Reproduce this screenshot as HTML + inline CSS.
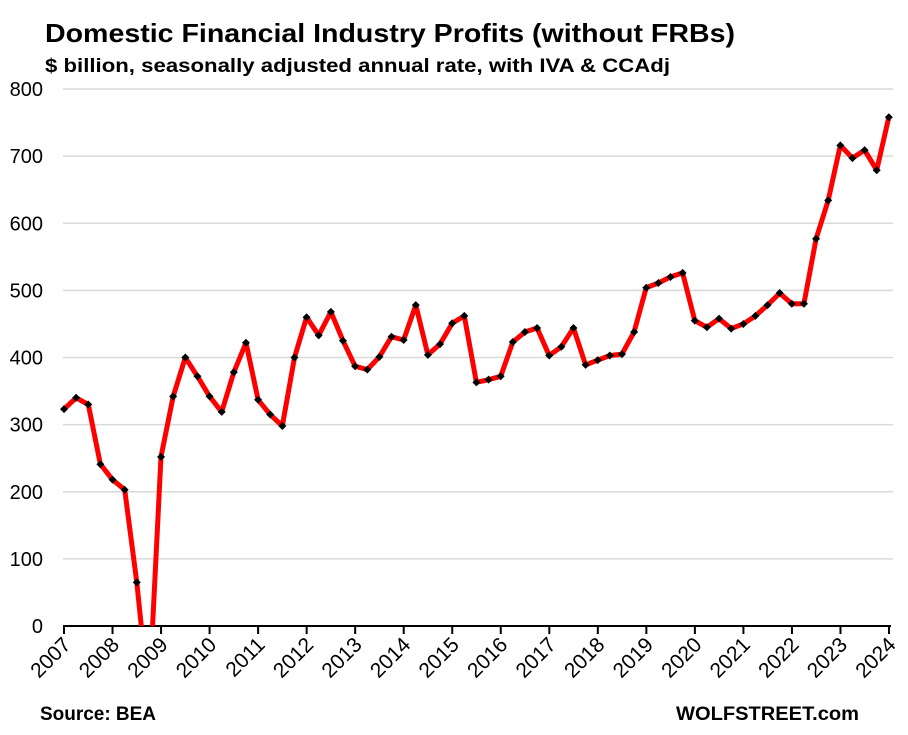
<!DOCTYPE html>
<html><head><meta charset="utf-8"><style>
html,body{margin:0;padding:0;background:#fff;}
svg{display:block;font-family:"Liberation Sans",sans-serif;}
</style></head><body>
<svg id="c" width="908" height="735" viewBox="0 0 908 735" xmlns="http://www.w3.org/2000/svg">
<defs><clipPath id="cp"><rect x="0" y="80" width="908" height="546"/></clipPath></defs>
<text x="45" y="42" font-size="26" font-weight="bold" textLength="690" lengthAdjust="spacingAndGlyphs">Domestic Financial Industry Profits (without FRBs)</text>
<text x="45" y="72" font-size="19" font-weight="bold" textLength="625" lengthAdjust="spacingAndGlyphs">$ billion, seasonally adjusted annual rate, with IVA &amp; CCAdj</text>
<g id="grid"></g>
<g id="ylab" font-size="20" text-anchor="end"></g>
<line x1="63" y1="626" x2="891" y2="626" stroke="#000" stroke-width="2"/>
<g id="ticks"></g>
<g id="xlab" font-size="21"></g>
<g clip-path="url(#cp)"><polyline id="ln" fill="none" stroke="#ff0000" stroke-width="5" stroke-linejoin="round"/></g>
<g id="mk" fill="#000"></g>
<text x="40" y="720" font-size="19" font-weight="bold" textLength="116" lengthAdjust="spacingAndGlyphs">Source: BEA</text>
<text x="676" y="720" font-size="19" font-weight="bold" textLength="183" lengthAdjust="spacingAndGlyphs">WOLFSTREET.com</text>
</svg>
<script>
var NS="http://www.w3.org/2000/svg";
function el(p,t,a,txt){var e=document.createElementNS(NS,t);for(var k in a)e.setAttribute(k,a[k]);if(txt!=null)e.textContent=txt;document.getElementById(p).appendChild(e);return e;}
function Y(v){return 626-v*0.67125;}
for(var v=100;v<=800;v+=100){el("grid","line",{x1:63,x2:893,y1:Y(v),y2:Y(v),stroke:"#d9d9d9","stroke-width":1.5});}
for(var v=0;v<=800;v+=100){el("ylab","text",{x:43,y:Y(v)+7},v);}
for(var i=0;i<=17;i++){var x=64+i*48.53;el("ticks","line",{x1:x,x2:x,y1:626,y2:634,stroke:"#000","stroke-width":2});
 el("xlab","text",{x:0,y:0,transform:"translate("+(x+8)+",646) rotate(-45)","text-anchor":"end"},2007+i);}
var d=[323,340,330,241,218,203,65,-110,252,342,400,372,342,319,378,422,337,315,298,400,460,433,468,425,387,382,401,431,426,478,404,420,451,462,363,367,372,423,438,444,403,416,444,389,396,403,405,438,504,511,520,526,455,445,458,443,450,462,478,496,480,480,577,634,716,697,709,679,758];
var pts=[];
for(var i=0;i<d.length;i++){var x=64+i*12.13,y=Y(d[i]);pts.push(x.toFixed(1)+","+y.toFixed(1));
 if(d[i]>=0)el("mk","path",{d:"M"+x+" "+(y-4)+"L"+(x+4)+" "+y+"L"+x+" "+(y+4)+"L"+(x-4)+" "+y+"Z"});}
document.getElementById("ln").setAttribute("points",pts.join(" "));
</script>
</body></html>
